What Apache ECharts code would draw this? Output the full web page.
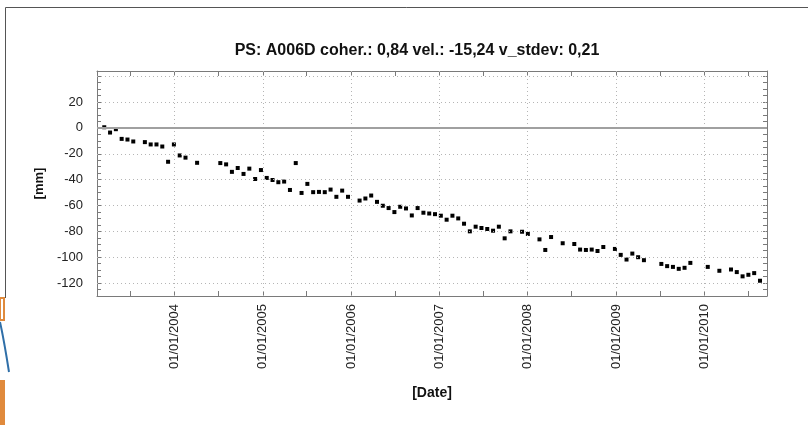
<!DOCTYPE html>
<html>
<head>
<meta charset="utf-8">
<script src="https://cdn.jsdelivr.net/npm/echarts@6/dist/echarts.min.js"></script>
<style>
  html, body { margin: 0; padding: 0; background: #fff; }
  #chart { width: 808px; height: 425px; }
</style>
</head>
<body>
<div id="chart"></div>
<script>
// acquisition dates
const dates = [
  '2003-03-17', '2003-04-10', '2003-05-04', '2003-05-28', '2003-06-21', '2003-07-15', '2003-09-01',
  '2003-09-25', '2003-10-19', '2003-11-12', '2003-12-06', '2003-12-30', '2004-01-23', '2004-02-16',
  '2004-04-04', '2004-07-09', '2004-08-02', '2004-08-26', '2004-09-19', '2004-10-13', '2004-11-06',
  '2004-11-30', '2004-12-24', '2005-01-17', '2005-02-10', '2005-03-06', '2005-03-30', '2005-04-23',
  '2005-05-17', '2005-06-10', '2005-07-04', '2005-07-28', '2005-08-21', '2005-09-14', '2005-10-08',
  '2005-11-01', '2005-11-25', '2005-12-19', '2006-02-05', '2006-03-01', '2006-03-25', '2006-04-18',
  '2006-05-12', '2006-06-05', '2006-06-29', '2006-07-23', '2006-08-16', '2006-09-09', '2006-10-03',
  '2006-10-27', '2006-11-20', '2006-12-14', '2007-01-07', '2007-01-31', '2007-02-24', '2007-03-20',
  '2007-04-13', '2007-05-07', '2007-05-31', '2007-06-24', '2007-07-18', '2007-08-11', '2007-09-04',
  '2007-09-28', '2007-10-22', '2007-12-09', '2008-01-02', '2008-02-19', '2008-03-14', '2008-04-07',
  '2008-05-25', '2008-07-12', '2008-08-05', '2008-08-29', '2008-09-22', '2008-10-16', '2008-11-09',
  '2008-12-27', '2009-01-20', '2009-02-13', '2009-03-09', '2009-04-02', '2009-04-26', '2009-07-07',
  '2009-07-31', '2009-08-24', '2009-09-17', '2009-10-11', '2009-11-04', '2010-01-15', '2010-03-04',
  '2010-04-21', '2010-05-15', '2010-06-08', '2010-07-02', '2010-07-26', '2010-08-19'
]

// displacement in mm
const displacement = [
  0.5, -3.6, -1, -8.5, -9, -10.5, -11, -12.8, -12.8, -14.4, -26.2, -12.8, -21.3, -23,
  -27, -27.2, -28.2, -34, -31, -35.6, -31.5, -39.5, -32.6,
  -38.7, -40.3, -42, -41.5, -48, -27.2, -50.3, -43.3, -49.7, -49.5, -49.7, -47.7, -53.3, -48.5, -53.3,
  -56.2, -54.6, -52.3, -57.2, -60.2, -62, -65.1, -61, -62.3, -67.7, -62, -65.6, -66.2, -66.7,
  -67.9, -71, -67.9, -70, -74.1, -80, -76.4, -77.4, -78.2, -79.5, -76.4, -85.4, -80, -80.3,
  -82, -86.2, -94.4, -84.4, -89.2, -89.8, -94.1, -94.4, -94.1, -95.2, -92.1, -93.6,
  -98.2, -101.8, -97.2, -100, -102.3, -105.2, -106.9, -107.5, -109, -108.2, -104.4,
  -107.5, -110.5, -109.5, -111.5, -114.8, -113.6, -112.3, -118.2
]

const yearTicks = ['2004-01-01', '2005-01-01', '2006-01-01', '2007-01-01', '2008-01-01', '2009-01-01', '2010-01-01']
const halfYearTicks = ['2003-07-01', '2004-07-01', '2005-07-01', '2006-07-01', '2007-07-01', '2008-07-01', '2009-07-01', '2010-07-01']
const yGridValues = [40, 20, -20, -40, -60, -80, -100, -120]
const xRange = ['2003-02-15', '2010-09-17']
const yRange = [-130, 44]

function toTime(s) {
  const p = s.split('-')
  return new Date(+p[0], +p[1] - 1, +p[2]).getTime()
}

function fmtDate(v) {
  const d = new Date(v)
  const pad = n => (n < 10 ? '0' : '') + n
  return pad(d.getDate()) + '/' + pad(d.getMonth() + 1) + '/' + d.getFullYear()
}

const font = "'Liberation Sans', Arial, sans-serif"
const axisColor = '#7a7a7a'
const tickValues = yearTicks.concat(halfYearTicks).map(toTime).sort((a, b) => a - b)

const chart = echarts.init(document.getElementById('chart'))

// dates go on a plain value axis (ms) so the ticks can sit exactly on 1 Jan / 1 Jul
const xBase = {
  type: 'value',
  scale: true,
  min: toTime(xRange[0]),
  max: toTime(xRange[1]),
  axisLine: { show: true, onZero: false, lineStyle: { color: axisColor, width: 1 } },
  axisTick: { show: true, inside: true, length: 5, customValues: tickValues, lineStyle: { color: axisColor } },
  splitLine: { show: false }
}

const yBase = {
  type: 'value',
  min: yRange[0],
  max: yRange[1],
  interval: 5,
  axisLine: { show: true, lineStyle: { color: axisColor, width: 1 } },
  axisTick: { show: true, inside: true, length: 4, lineStyle: { color: axisColor } },
  splitLine: { show: false }
}

const option = {
  animation: false,
  backgroundColor: '#fff',
  title: {
    text: 'PS: A006D coher.: 0,84 vel.: -15,24 v_stdev: 0,21',
    left: 412,
    top: 38,
    textAlign: 'center',
    textStyle: { fontFamily: font, fontSize: 16, fontWeight: 'bold', color: '#111' }
  },
  grid: { left: 97, right: 41, top: 71, bottom: 129 },
  xAxis: [
    {
      ...xBase,
      position: 'bottom',
      name: '[Date]',
      nameLocation: 'middle',
      nameGap: 90,
      nameTextStyle: { fontFamily: font, fontSize: 14, fontWeight: 'bold', color: '#111' },
      axisLabel: {
        show: true,
        rotate: 90,
        margin: 8,
        customValues: yearTicks.map(toTime),
        formatter: fmtDate,
        fontFamily: font,
        fontSize: 13,
        color: '#222'
      }
    },
    {
      ...xBase,
      position: 'top',
      axisLabel: { show: false }
    }
  ],
  yAxis: [
    {
      ...yBase,
      position: 'left',
      name: '[mm]',
      nameLocation: 'middle',
      nameRotate: 90,
      nameGap: 50,
      nameTextStyle: { fontFamily: font, fontSize: 13, fontWeight: 'bold', color: '#111' },
      axisLabel: {
        show: true,
        margin: 14,
        fontFamily: font,
        fontSize: 13,
        color: '#222',
        formatter: v => (v % 20 === 0 && v <= 20 ? String(v) : '')
      }
    },
    {
      ...yBase,
      position: 'right',
      axisLabel: { show: false }
    }
  ],
  series: [
    {
      type: 'scatter',
      xAxisIndex: 0,
      yAxisIndex: 0,
      symbol: 'rect',
      symbolSize: 4,
      itemStyle: { color: '#000', opacity: 1 },
      data: dates.map((d, i) => [toTime(d), displacement[i]]),
      markLine: {
        silent: true,
        symbol: 'none',
        label: { show: false },
        animation: false,
        lineStyle: { color: '#b5b5b5', type: [1, 3], width: 1 },
        data: [
          ...yGridValues.map(v => ({ yAxis: v })),
          ...yearTicks.map(t => ({ xAxis: toTime(t) })),
          { yAxis: 0, lineStyle: { color: '#a0a0a0', type: 'solid', width: 2 } }
        ]
      }
    }
  ],
  graphic: [
    { type: 'line', shape: { x1: 5.5, y1: 7.5, x2: 808, y2: 7.5 }, style: { stroke: '#555', lineWidth: 1 } },
    { type: 'line', shape: { x1: 5.5, y1: 7.5, x2: 5.5, y2: 298 }, style: { stroke: '#555', lineWidth: 1 } },
    { type: 'rect', shape: { x: 0, y: 298, width: 4, height: 22 }, style: { fill: '#fff', stroke: '#e08a3c', lineWidth: 2 } },
    { type: 'bezierCurve', shape: { x1: 0, y1: 322, x2: 9, y2: 372, cpx1: 4, cpy1: 340 }, style: { stroke: '#2f6fa8', lineWidth: 2, fill: 'none' } },
    { type: 'rect', shape: { x: 0, y: 380, width: 5, height: 45 }, style: { fill: '#e08a3c' } }
  ]
}

chart.setOption(option)
</script>
</body>
</html>
